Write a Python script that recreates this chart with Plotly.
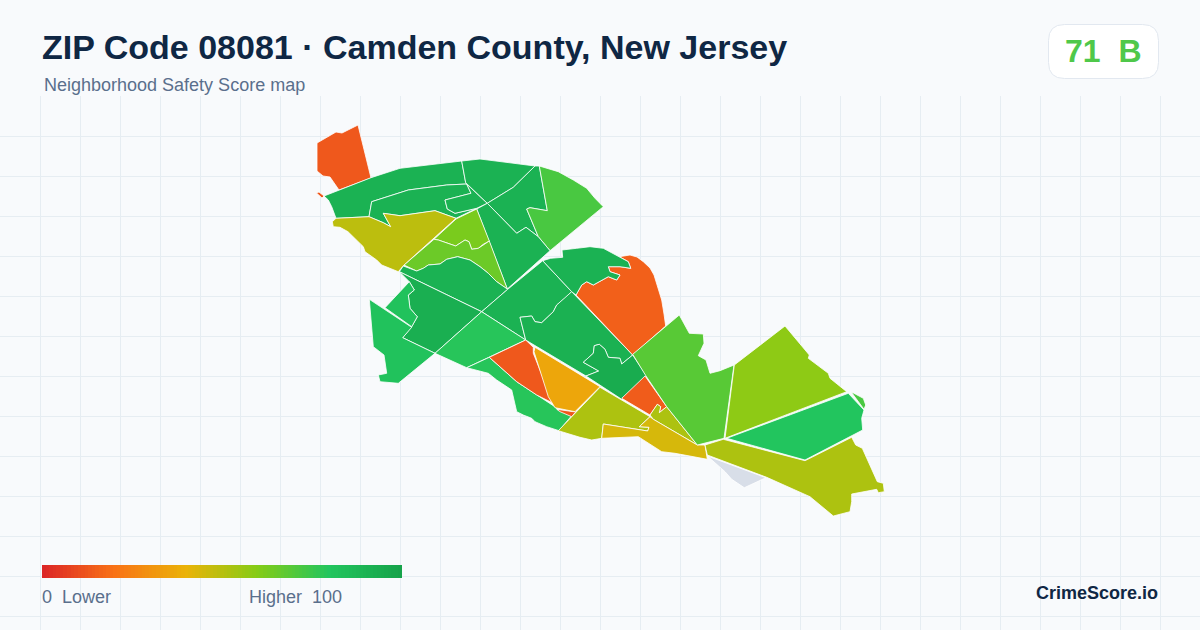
import plotly.graph_objects as go
from plotly.colors import sample_colorscale

TITLE = "ZIP Code 08081 · Camden County, New Jersey"
SUBTITLE = "Neighborhood Safety Score map"
SCORE_TEXT = "71  B"
BRAND = "CrimeScore.io"

COLOR_SCALE = [[0.0, "#dc2626"], [0.2, "#f97316"], [0.4, "#eab308"],
               [0.6, "#84cc16"], [0.8, "#22c55e"], [1.0, "#16a34a"]]
LEGEND_VALUES = list(range(0, 101))

# Neighborhood outlines in map-plane units, with the score read from each fill
NEIGHBORHOODS = [
    (13, [317,143, 336,132, 342,133, 358,125, 371,178, 339,190, 330,177, 323,176, 317,171]),
    (13, [316.5,193, 319,192, 324,196, 322,198]),
    (91, [324,196, 339.3,190, 371,177.7, 400,168.3, 461.7,161, 465.7,182.7, 466.7,184, 446.7,185, 408.3,190, 371.7,201.7, 369,216.7, 336,218.3, 331.7,206.7, 328.3,200]),
    (91, [371.7,201.7, 408.3,190, 446.7,185, 466.7,184, 471,193.3, 445,200, 447.3,209, 455,213.3, 476.7,208.3, 456,218.3, 435,210.7, 416.7,213.3, 400,215.7, 383.3,213.3, 390.7,226.7, 383.3,222.7, 369,216.7]),
    (91, [466.7,184, 487.3,203.3, 476.7,208.3, 455,213.3, 447.3,209, 445,200, 471,193.3]),
    (91, [461.7,161, 480,159, 535,166, 513.3,187.3, 487.3,203.3, 466.7,184, 465.7,182.7]),
    (91, [539.3,166, 535,166, 513.3,187.3, 487.3,203.3, 516.7,233.3, 526,227.3, 538.3,236.7, 526.7,209, 530,207.7, 547.3,210.7]),
    (72, [539.3,166, 558.3,171.7, 573.3,180, 586.7,188.3, 595,198.3, 603.3,206.7, 550,250.7, 538.3,236.7, 526.7,209, 530,207.7, 547.3,210.7]),
    (91, [476.7,209, 487.3,203.3, 516.7,233.3, 526,227.3, 538.3,236.7, 550,250.7, 507.3,289]),
    (62, [476.7,209, 489.3,241, 483.3,244.3, 478.3,248.3, 471.7,249.3, 469,241.7, 465,240, 455.7,246, 438.3,240, 434,239.3, 456,219]),
    (65, [434,239.3, 438.3,240, 455.7,246, 465,240, 469,241.7, 471.7,249.3, 478.3,248.3, 489.3,241, 507.3,289, 496.7,281.7, 488.3,273.3, 480,266.7, 470,260, 457.7,256.7, 446.7,259.3, 440,264, 428.3,265, 423.3,268.3, 416.7,271, 404,265]),
    (49, [332.3,221.7, 336,218.3, 369,216.7, 383.3,222.7, 390.7,226.7, 383.3,213.3, 400,215.7, 416.7,213.3, 435,210.7, 456,218.3, 404,265, 398.3,271.7, 381.7,265, 376.7,260, 365,251.7, 363.3,246.7, 355,238.3, 348,231.7, 340,227.3, 333.3,226.7]),
    (91, [403.3,266, 416.7,271, 423.3,268.3, 428.3,265, 440,264, 446.7,259.3, 457.7,256.7, 470,260, 480,266.7, 488.3,273.3, 496.7,281.7, 507.7,289.3, 481.7,311.7, 399.3,271.7]),
    (91, [507.7,289.3, 542.7,260.7, 571.7,291.7, 566.7,296.7, 556.7,305, 553.3,311.7, 541.7,322.7, 535,321.7, 531.7,316, 520,317.3, 525.7,340, 481.7,311.7]),
    (92, [571.7,291.7, 632.7,355, 621.7,364, 620,358.3, 608.3,357.3, 605,349.3, 599.3,344.3, 594.3,345.7, 593.3,353.3, 583.3,362.3, 598.7,371, 586,376, 525.7,340, 520,317.3, 531.7,316, 535,321.7, 541.7,322.7, 553.3,311.7, 556.7,305, 566.7,296.7]),
    (95, [632.7,355, 646.7,376, 621.7,399.3, 586,376, 598.7,371, 583.3,362.3, 593.3,353.3, 594.3,345.7, 599.3,344.3, 605,349.3, 608.3,357.3, 620,358.3, 621.7,364]),
    (14, [621.7,398.3, 645,376, 666.7,406.7, 659.3,412.7, 660.7,406.7, 657.3,404.3, 650,415]),
    (52, [650,415, 657.3,404.3, 660.7,406.7, 659.3,412.7, 666.7,406.7, 697.3,445, 653.3,419.3]),
    (15, [576,295, 581.7,285, 586.7,281.7, 593.3,285, 608.3,276.7, 616.7,280, 620,275, 610,271.7, 608.3,266.7, 620,266.7, 630.7,268.3, 628.3,261.7, 619.3,256.7, 630,255, 637,257, 643.3,261.7, 650,268, 654,275, 658,288, 661.7,300, 664,314, 665.7,326, 632.7,355]),
    (91, [542.7,260.7, 550.7,258.3, 562.7,257.3, 562,250, 576.7,248.3, 590,246.7, 603.3,248.3, 619.3,256.7, 628.3,261.7, 630.7,268.3, 620,266.7, 608.3,266.7, 610,271.7, 620,275, 616.7,280, 608.3,276.7, 593.3,285, 586.7,281.7, 581.7,285, 576,295, 571.7,291.7]),
    (93, [399.3,271.7, 481.7,311.7, 435,353.3, 402.7,337.7, 411.7,326.7, 417.3,316.7, 410,308.3, 408.3,295, 414.3,290, 409.3,281.7]),
    (82, [409.3,281.7, 414.3,290, 408.3,295, 410,308.3, 417.3,316.7, 411.7,326.7, 385,307.7, 396.7,295]),
    (82, [369.3,299.3, 411.7,327.3, 402.7,337.7, 435,353.3, 398.3,383.3, 380,381.7, 378.3,375, 386.7,373.3, 384,355, 373.3,346.7]),
    (79, [435,353.3, 481.7,311.7, 525.7,340, 489.3,357.3, 466.7,367.7]),
    (79, [466.7,367.7, 489.3,357.3, 516.7,381.7, 536.7,395, 553.3,405.7, 558.3,410, 575,411.7, 559,430.7, 546.7,426.7, 535,421.7, 531.7,418.3, 523.3,415, 516.7,411.7, 511.7,390, 496.7,380, 488.3,373.3]),
    (13, [489.3,357.3, 525.7,340, 533.3,347.3, 533.3,353.3, 553.3,403.3, 536.7,395, 516.7,381.7]),
    (13, [556.7,409.3, 573.3,411.7, 576.7,410.7, 571.7,416.7, 560,411.7]),
    (36, [535,347.3, 600,386.7, 575,411.7, 555,407.7, 548.3,396.7, 534,351.7]),
    (52, [600,387.3, 650,416.7, 639.3,426.7, 649,427.3, 647.7,431, 603.3,424, 601.7,438.3, 591.7,440, 580,437.3, 558.3,430.7]),
    (44, [603.3,424, 647.7,431, 649,427.3, 639.3,426.7, 650,416.7, 653.3,419.3, 697.3,445, 705,445, 707.3,459.3, 675,453.3, 661.7,451.7, 646.7,441.7, 638.3,436.7, 601.7,438.3]),
    (69, [632.7,354.3, 679.3,315, 689.3,333.3, 703.3,334, 704,343.3, 698.3,355.7, 706,360, 710,373.3, 720,370.7, 734,365, 724,438.3, 697.3,445, 666.7,406.7, 646,376]),
    (58, [734.3,365, 785,326, 809.3,355, 808.3,358.3, 828.3,373.3, 830,378.3, 846.7,391.7, 725,438.3]),
    (80, [726.7,438.3, 848.3,393.3, 864,410, 861.7,418.3, 862.7,430, 805,460]),
    (72, [851,391.7, 863.3,398.3, 865.7,405, 864,409.3]),
    (52, [705,445, 723.3,439.3, 805,460.7, 851.7,437.3, 855.7,445, 862.3,448.3, 877.3,481.7, 883.3,483.3, 884.3,491.7, 878.3,492.7, 876.7,489.3, 851.7,494, 851.7,501.7, 850,511.7, 833.3,516, 810,496.7, 766.7,477.3, 707.3,455]),
]
NO_DATA_OUTLINE = [707.3,456, 766,477.7, 744.3,487.7, 731.7,479.3, 725,471.7]

W, H = 1200, 630
BG, INK, MUTED = "#f8fafc", "#0f2744", "#5a6f8c"

def px(x): return x / W
def py(y): return 1 - y / H

fig = go.Figure()

def add_polygon(coords, fill):
    xs = list(coords[0::2]) + [coords[0]]
    ys = list(coords[1::2]) + [coords[1]]
    fig.add_trace(go.Scatter(x=xs, y=ys, mode="lines", fill="toself", fillcolor=fill,
                             line=dict(color="white", width=0.8), hoverinfo="skip", showlegend=False))

add_polygon(NO_DATA_OUTLINE, "#d8dee8")
for score, coords in NEIGHBORHOODS:
    add_polygon(coords, sample_colorscale(COLOR_SCALE, score / 100)[0])

fig.add_trace(go.Heatmap(z=[LEGEND_VALUES], x0=42 + 360 / 202, dx=360 / 101, y0=571.5, dy=13, zmin=0, zmax=100,
                         colorscale=COLOR_SCALE, showscale=False, hoverinfo="skip"))

def note(text, x, y, size, color, anchor="left", bold=False):
    fig.add_annotation(text=f"<b>{text}</b>" if bold else text, xref="paper", yref="paper",
                       x=px(x), y=py(y), xanchor=anchor, yanchor="middle", showarrow=False,
                       font=dict(family="Liberation Sans", size=size, color=color),
                       borderpad=0, borderwidth=0)

note(TITLE, 42, 47, 34, INK, bold=True)
note(SUBTITLE, 44, 85, 18, MUTED)
note(SCORE_TEXT, 1103, 51, 32, "#4fc84a", anchor="center", bold=True)
note("0  Lower", 42, 597, 18, MUTED)
note("Higher  100", 249, 597, 18, MUTED)
note(BRAND, 1158, 593, 18, INK, anchor="right", bold=True)

# rounded score badge
x0, x1, y0, y1, r = 1048.5, 1158.5, 24.5, 78.5, 16
badge = (f"M{px(x0+r)},{py(y0)} L{px(x1-r)},{py(y0)} Q{px(x1)},{py(y0)} {px(x1)},{py(y0+r)} "
         f"L{px(x1)},{py(y1-r)} Q{px(x1)},{py(y1)} {px(x1-r)},{py(y1)} L{px(x0+r)},{py(y1)} "
         f"Q{px(x0)},{py(y1)} {px(x0)},{py(y1-r)} L{px(x0)},{py(y0+r)} Q{px(x0)},{py(y0)} {px(x0+r)},{py(y0)} Z")
fig.add_shape(type="path", path=badge, xref="paper", yref="paper", fillcolor="white",
              line=dict(color="#e2e8f0", width=1), layer="below")

fig.update_layout(
    width=W, height=H, margin=dict(l=0, r=0, t=0, b=0), autosize=False,
    paper_bgcolor=BG, plot_bgcolor=BG, showlegend=False,
    xaxis=dict(range=[0, W], tick0=0, dtick=40, showgrid=True, gridcolor="#e6edf2", gridwidth=1,
               zeroline=False, showticklabels=False, ticks="", showline=False, fixedrange=True),
    yaxis=dict(range=[H, 96], domain=[0, (H - 96) / H], tick0=16, dtick=40, showgrid=True,
               gridcolor="#e6edf2", gridwidth=1, zeroline=False, showticklabels=False, ticks="",
               showline=False, fixedrange=True),
)
fig.write_html("out.html", config={"displayModeBar": False, "responsive": False},
               post_script="document.body.style.margin='0';document.body.style.background='#f8fafc';")
